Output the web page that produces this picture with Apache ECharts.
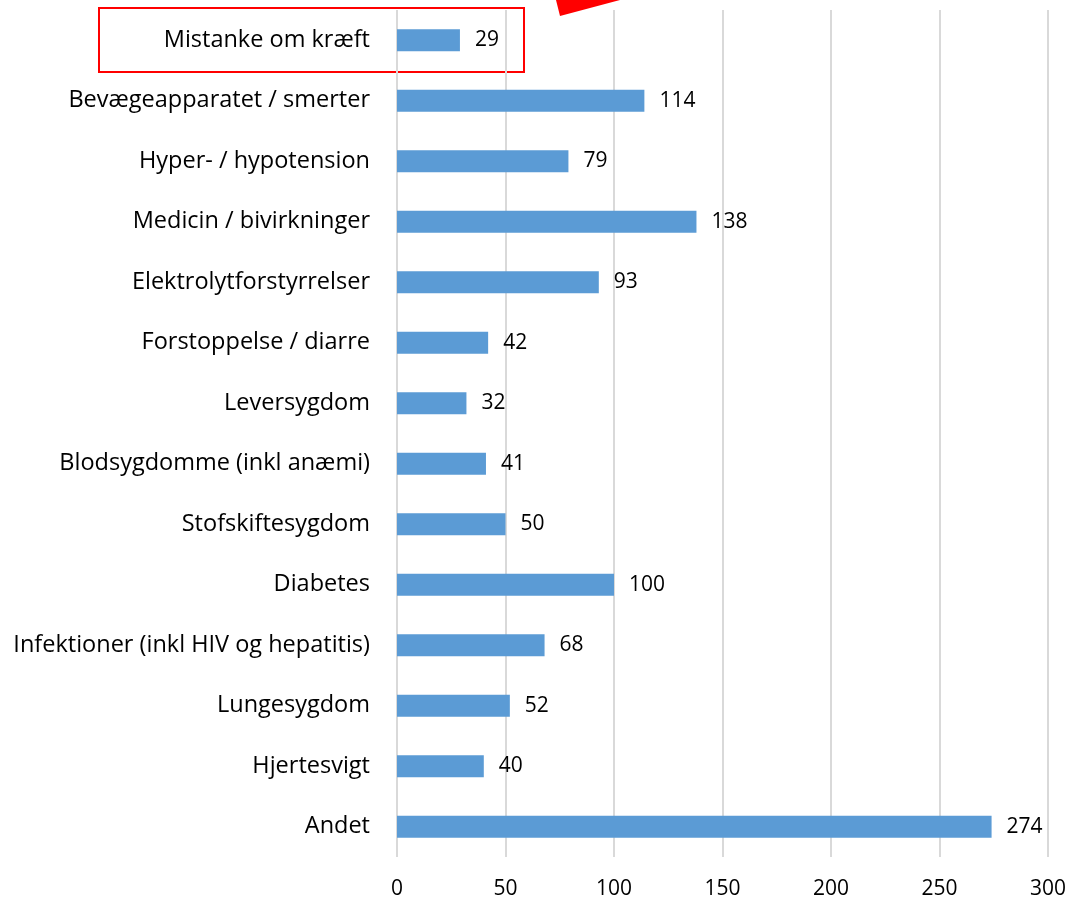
<!DOCTYPE html>
<html><head><meta charset="utf-8">
<script src="https://cdn.jsdelivr.net/npm/echarts@6/dist/echarts.min.js"></script>
<style>html,body{margin:0;padding:0;background:#fff}#c{width:1071px;height:900px}</style>
</head><body><div id="c"></div>
<script>
const categories = ["Mistanke om kræft","Bevægeapparatet / smerter","Hyper- / hypotension","Medicin / bivirkninger","Elektrolytforstyrrelser","Forstoppelse / diarre","Leversygdom","Blodsygdomme (inkl anæmi)","Stofskiftesygdom","Diabetes","Infektioner (inkl HIV og hepatitis)","Lungesygdom","Hjertesvigt","Andet"];
const values = [29,114,79,138,93,42,32,41,50,100,68,52,40,274];
const xTicks = [0,50,100,150,200,250,300];
const font = "Open Sans";
const chart = echarts.init(document.getElementById('c'));
chart.setOption({
  animation:false,
  grid:{left:397,right:23,top:10,bottom:42,containLabel:false},
  xAxis:{type:'value',min:xTicks[0],max:xTicks[xTicks.length-1],interval:50,
    axisLine:{show:false},axisTick:{show:false},
    splitLine:{lineStyle:{color:'#d9d9d9',width:2}},
    axisLabel:{margin:22,color:'#000',fontSize:21,fontFamily:font}},
  yAxis:{type:'category',data:categories,inverse:true,
    axisLine:{show:false},axisTick:{show:false},
    axisLabel:{margin:27,color:'#000',fontSize:23.5,fontFamily:font}},
  series:[{type:'bar',data:values,barWidth:22,itemStyle:{color:'#5B9BD5'},
    label:{show:true,position:'right',distance:15,color:'#000',fontSize:21,fontFamily:font}}],
  graphic:[
    {type:'rect',shape:{x:99,y:8,width:425,height:64},style:{fill:'none',stroke:'#ff0000',lineWidth:2}},
    {type:'polygon',shape:{points:[[556,0],[620,0],[560,16]]},style:{fill:'#ff0000'}}
  ]
});
</script></body></html>
